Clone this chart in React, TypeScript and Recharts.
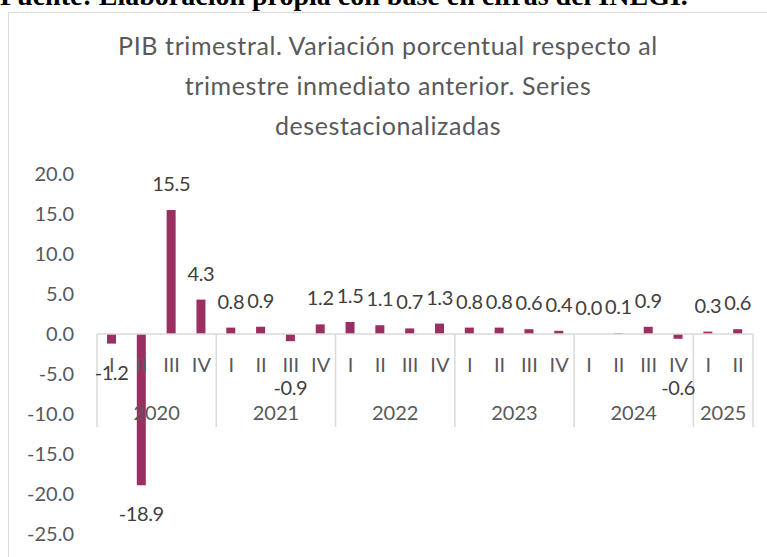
import { Bar, BarChart, LabelList, ReferenceLine, XAxis, YAxis } from "recharts"

const quarters = ["I", "II", "III", "IV", "I", "II", "III", "IV", "I", "II", "III", "IV", "I", "II", "III", "IV", "I", "II", "III", "IV", "I", "II"]
const years = ["2020", "2021", "2022", "2023", "2024", "2025"]
const quartersPerYear = [4, 4, 4, 4, 4, 2]
const growth = [-1.2, -18.9, 15.5, 4.3, 0.8, 0.9, -0.9, 1.2, 1.5, 1.1, 0.7, 1.3, 0.8, 0.8, 0.6, 0.4, 0.0, 0.1, 0.9, -0.6, 0.3, 0.6]
const yTicks = [-25, -20, -15, -10, -5, 0, 5, 10, 15, 20]

const data = quarters.map((q, i) => ({ q, v: growth[i] }))

const font = "Lato, 'Noto Sans', sans-serif"
const grey = "#d9d9d9"

function CategoryAxis(props: any) {
  const vb = props.viewBox
  if (!vb) return null
  const { x, y, width } = vb
  const band = width / quarters.length
  const items: any[] = []
  quarters.forEach((q, i) => {
    items.push(
      <text key={"q" + i} x={x + (i + 0.5) * band} y={y + 38} textAnchor="middle" fontSize={20} fill="#595959" fontFamily={font}>
        {q}
      </text>
    )
  })
  let start = 0
  years.forEach((yr, j) => {
    const n = quartersPerYear[j]
    const x0 = x + start * band
    items.push(<line key={"s" + j} x1={x0} x2={x0} y1={y} y2={y + 93} stroke={grey} strokeWidth={1.5} />)
    items.push(
      <text key={"y" + j} x={x0 + (n * band) / 2} y={y + 86} textAnchor="middle" fontSize={20} fill="#595959" fontFamily={font}>
        {yr}
      </text>
    )
    start += n
  })
  items.push(<line key="end" x1={x + width} x2={x + width} y1={y} y2={y + 93} stroke={grey} strokeWidth={1.5} />)
  return <g>{items}</g>
}

function ValueLabel(props: any) {
  const { x, y, width, height, value } = props
  const top = Math.min(y, y + height)
  const bottom = Math.max(y, y + height)
  const cx = x + width / 2
  let ty = top - 19
  if (value < 0) {
    // short negative bars: label sits under the quarter labels, as in the original
    ty = bottom - top < 8.5 ? top + 61 : bottom + 36
  }
  return (
    <text x={cx} y={ty} textAnchor="middle" fontSize={20} fill="#404040" fontFamily={font} letterSpacing={-0.4}>
      {Number(value).toFixed(1)}
    </text>
  )
}

export default function App() {
  return (
    <div style={{ position: "relative", width: 767, height: 557, overflow: "hidden", background: "#fff" }}>
      <style>{"body{margin:0;overflow:hidden}"}</style>
      <div
        style={{
          position: "absolute",
          left: 0,
          top: -19,
          fontFamily: "'Liberation Serif', 'Times New Roman', serif",
          fontWeight: "bold",
          fontSize: 28,
          lineHeight: "30px",
          whiteSpace: "nowrap",
          color: "#000",
        }}
      >
        Fuente: Elaboración propia con base en cifras del INEGI.
      </div>
      <div
        style={{
          position: "absolute",
          left: 8,
          top: 12,
          width: 780,
          height: 580,
          borderLeft: "1px solid " + grey,
          borderTop: "1px solid " + grey,
          background: "#fff",
        }}
      />
      <div
        style={{
          position: "absolute",
          left: 9,
          top: 25,
          width: 758,
          textAlign: "center",
          fontFamily: font,
          fontSize: 25,
          letterSpacing: 0.6,
          lineHeight: "40px",
          color: "#595959",
        }}
      >
        PIB trimestral. Variación porcentual respecto al
        <br />
        trimestre inmediato anterior. Series
        <br />
        desestacionalizadas
      </div>
      <div style={{ position: "absolute", left: 9, top: 13 }}>
        <BarChart width={758} height={544} data={data} margin={{ top: 161, right: 14, bottom: 23, left: 28 }}>
          <XAxis dataKey="q" hide />
          <YAxis
            domain={[-25, 20]}
            ticks={yTicks}
            width={60}
            axisLine={false}
            tickLine={false}
            tickMargin={17}
            tickFormatter={(v: number) => v.toFixed(1)}
            tick={{ fontSize: 20, fill: "#595959", fontFamily: font }}
            allowDataOverflow
          />
          <ReferenceLine y={0} stroke={grey} strokeWidth={1.5} label={<CategoryAxis />} />
          <Bar
            dataKey="v"
            fill="#9b2f62"
            barSize={9}
            minPointSize={(value: number) => (value === 0 ? 0.01 : 0)}
            isAnimationActive={false}
          >
            <LabelList dataKey="v" content={<ValueLabel />} />
          </Bar>
        </BarChart>
      </div>
    </div>
  )
}
